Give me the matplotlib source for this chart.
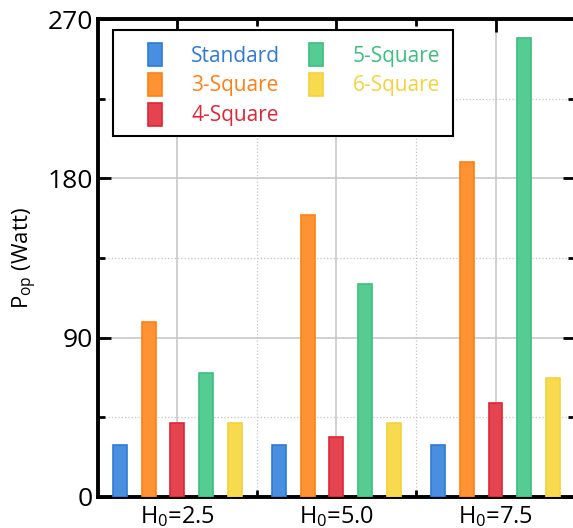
import numpy as np
import matplotlib
matplotlib.use("Agg")
import matplotlib.pyplot as plt
from matplotlib.ticker import MultipleLocator
from matplotlib.patches import Rectangle

plt.rcParams['font.family'] = ['Open Sans', 'DejaVu Sans']
plt.rcParams['mathtext.fontset'] = 'custom'
plt.rcParams['mathtext.rm'] = 'Open Sans'
plt.rcParams['mathtext.it'] = 'Open Sans'

# DATA
groups = ['H$_0$=2.5', 'H$_0$=5.0', 'H$_0$=7.5']
series = ['Standard', '3-Square', '4-Square', '5-Square', '6-Square']
standard = [29.5, 29.5, 29.5]
square3 = [99, 159, 189]
square4 = [42, 34, 53]
square5 = [70, 120.5, 259]
square6 = [41.5, 41.5, 67]

values = [standard, square3, square4, square5, square6]
face_colors = ['#4a8ee0', '#ff9233', '#e3444f', '#55cd92', '#f7da4e']
edge_colors = ['#2f7ad8', '#ff7f10', '#e02535', '#3cbf7f', '#f5d23a']

fig = plt.figure(figsize=(5.73, 5.28), dpi=100)
ax = fig.add_axes([0.171, 0.059, 0.8325, 0.905])

x = np.arange(len(groups))
width = 0.088
step = 0.18
for i, (name, vals) in enumerate(zip(series, values)):
    ax.bar(x + (i - 2) * step, vals, width, label=name,
           color=face_colors[i], edgecolor=edge_colors[i], linewidth=1.2,
           zorder=3)

ax.set_xlim(-0.5, 2.5)
ax.set_ylim(0, 270)
ax.set_xticks(x)
ax.set_xticklabels(groups, fontsize=17)
ax.set_xticks([0.5, 1.5], minor=True)
ax.yaxis.set_major_locator(MultipleLocator(90))
ax.yaxis.set_minor_locator(MultipleLocator(45))
ax.tick_params(axis='y', labelsize=19)
ax.set_ylabel('P$_{\\rm op}$ (Watt)', fontsize=16, labelpad=6)

ax.tick_params(which='both', direction='in', top=True, right=True)
ax.tick_params(which='major', length=9, width=2)
ax.tick_params(which='minor', length=5, width=2)
ax.tick_params(axis='x', pad=5)
for sp in ax.spines.values():
    sp.set_linewidth(2.8)

ax.grid(which='major', color='#c4c4c4', linewidth=1.1, zorder=0)
ax.grid(which='minor', color='#c4c4c4', linewidth=0.9, linestyle=':', zorder=0)
ax.set_axisbelow(True)

# legend box drawn separately so the left padding can be wider than the right
box = Rectangle((0.031, 0.755), 0.714, 0.222, transform=ax.transAxes,
                facecolor='white', edgecolor='black', linewidth=1.5, zorder=5)
ax.add_patch(box)

leg = ax.legend(ncol=2, loc='upper left', bbox_to_anchor=(0.105, 0.95),
                fontsize=15, frameon=False, borderpad=0, borderaxespad=0,
                handlelength=0.67, handleheight=1.35, handletextpad=1.4,
                columnspacing=1.4, labelspacing=0.3)
leg.set_zorder(6)
for txt, c in zip(leg.get_texts(), edge_colors):
    txt.set_color(c)

fig.savefig('out.png', dpi=100)
